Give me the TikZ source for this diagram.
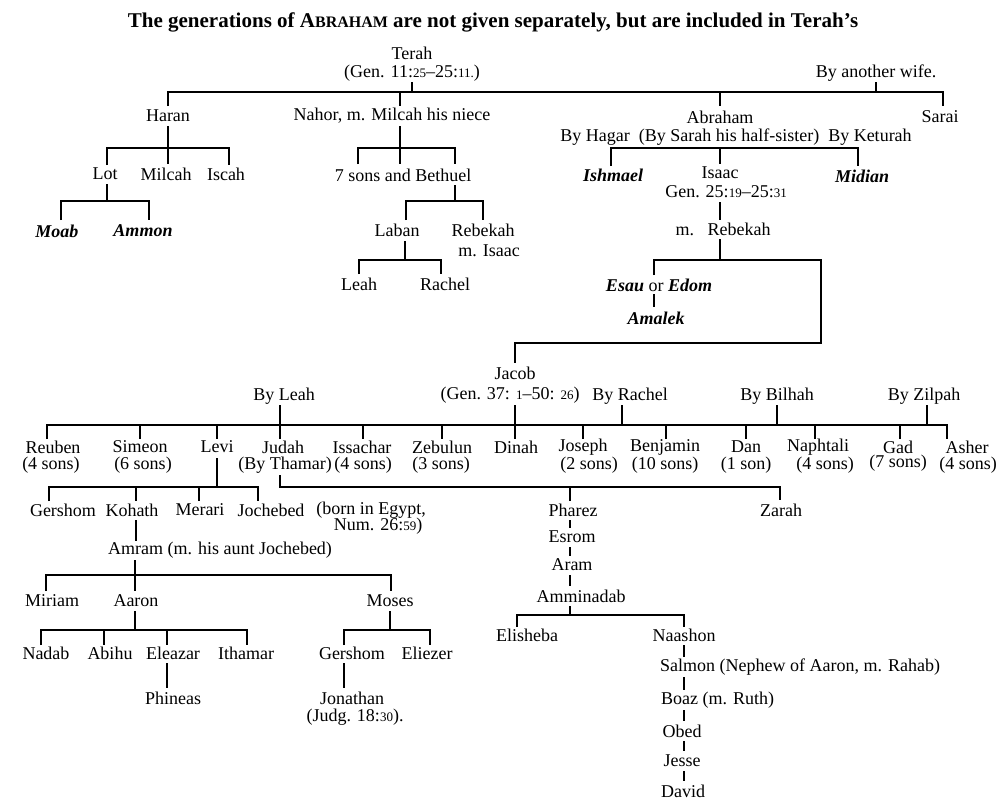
\documentclass[tikz,border=0pt]{standalone}
\usepackage{fontspec}
\setmainfont{Liberation Serif}
\newcommand{\sm}[1]{{\fontsize{13}{14}\selectfont #1}}
\begin{document}
\begin{tikzpicture}[x=1pt,y=-1pt,
  every node/.style={inner sep=0pt,font=\fontsize{18}{20}\selectfont},
  it/.style={font=\fontsize{18}{20}\selectfont\itshape\bfseries},
  ln/.style={line width=2.8pt}]
\useasboundingbox (0,0) rectangle (1000,800);
\node (title) at (493,22) {\fontsize{21}{23}\selectfont\bfseries The generations of A{\fontsize{16}{18}\selectfont BRAHAM} are not given separately, but are included in Terah's};
% top
\node (terah) at (412,53) {Terah};
\node (terahg) at (412,73) {(Gen. 11:\sm{25}--25:\sm{11.})};
\node (another) at (876,73) {By another wife.};
\node (haran) at (168,116) {Haran};
\node (nahor) at (392,116) {Nahor, m. Milcah his niece};
\node (abraham) at (720,117) {Abraham};
\node (sarai) at (940,117) {Sarai};
\draw[ln] (412,82) -- (412,92) (168,106) -- (168,92) -- (943,92) -- (943,106)
  (400,92) -- (400,106) (720,92) -- (720,106) (876,82) -- (876,92);
% Haran
\node (lot) at (105,174) {Lot};
\node (milcah) at (166,174) {Milcah};
\node (iscah) at (226,174) {Iscah};
\draw[ln] (168,126) -- (168,164) (107,165) -- (107,148) -- (229,148) -- (229,165);
\node[it] (moab) at (57,231) {Moab};
\node[it] (ammon) at (143,231) {Ammon};
\draw[ln] (107,184) -- (107,201) (61,220) -- (61,201) -- (149,201) -- (149,220);
% Nahor
\node (seven) at (403,175) {7 sons and Bethuel};
\draw[ln] (400,126) -- (400,164) (358,164) -- (358,148) -- (455,148) -- (455,164);
\node (laban) at (397,230) {Laban};
\node (rebekah1) at (483,230) {Rebekah};
\node (misaac) at (489,251) {m. Isaac};
\draw[ln] (455,185) -- (455,201) (406,220) -- (406,201) -- (483,201) -- (483,220);
\node (leah) at (359,284) {Leah};
\node (rachel) at (445,284) {Rachel};
\draw[ln] (405,241) -- (405,260) (359,274) -- (359,260) -- (441,260) -- (441,274);
% Abraham
\node (wives) at (736,137) {By Hagar\ \ (By Sarah his half-sister)\ \ By Keturah};
\node[it] (ishmael) at (613,175) {Ishmael};
\node (isaac) at (720,173) {Isaac};
\node (isaacg) at (726,192) {Gen. 25:\sm{19}--25:\sm{31}};
\node[it] (midian) at (862,176) {Midian};
\draw[ln] (611,166) -- (611,148) -- (858,148) -- (858,166) (720,148) -- (720,164);
\node (mreb) at (723,229) {m.\ \ \ Rebekah};
\draw[ln] (720,202) -- (720,220) (720,239) -- (720,260);
\node (esau) at (659,285) {\textit{\textbf{Esau}} or \textit{\textbf{Edom}}};
\node[it] (amalek) at (656,318) {Amalek};
\draw[ln] (654,275) -- (654,260) -- (821,260) -- (821,343) -- (515,343) -- (515,363)
  (654,294) -- (654,307);
% Jacob
\node (jacob) at (515,373) {Jacob};
\node (jacobg) at (510,395) {(Gen. 37: \sm{1}--50: \sm{26})};
\node (byleah) at (284,396) {By Leah};
\node (byrachel) at (630,396) {By Rachel};
\node (bybilhah) at (777,396) {By Bilhah};
\node (byzilpah) at (924,396) {By Zilpah};
\draw[ln] (515,405) -- (515,439) (47,439) -- (47,425) -- (947,425) -- (947,439)
  (280,405) -- (280,439) (622,405) -- (622,425) (777,405) -- (777,425) (927,405) -- (927,425);
\foreach \x in {140,217,363,442,583,666,746,815,900} \draw[ln] (\x,425) -- (\x,439);
\node (reuben) at (53,447) {Reuben};  \node at (51,465) {(4 sons)};
\node (simeon) at (140,447) {Simeon}; \node at (143,465) {(6 sons)};
\node (levi) at (217,447) {Levi};
\node (judah) at (283,447) {Judah};   \node (thamar) at (285,465) {(By Thamar)};
\node (issachar) at (362,447) {Issachar}; \node at (363,465) {(4 sons)};
\node (zebulun) at (442,447) {Zebulun}; \node at (441,465) {(3 sons)};
\node (dinah) at (516,447) {Dinah};
\node (joseph) at (583,447) {Joseph}; \node at (589,465) {(2 sons)};
\node (benjamin) at (665,447) {Benjamin}; \node at (665,465) {(10 sons)};
\node (dan) at (746,447) {Dan}; \node at (746,465) {(1 son)};
\node (naphtali) at (818,447) {Naphtali}; \node at (825,465) {(4 sons)};
\node (gad) at (898,447) {Gad}; \node at (898,463) {(7 sons)};
\node (asher) at (967,447) {Asher}; \node at (968,465) {(4 sons)};
% Levi
\draw[ln] (217,458) -- (217,487) (49,501) -- (49,487) -- (258,487) -- (258,501)
  (136,487) -- (136,501) (199,487) -- (199,501);
\node (gershom1) at (63,510) {Gershom};
\node (kohath) at (132,510) {Kohath};
\node (merari) at (200,510) {Merari};
\node (jochebed) at (271,510) {Jochebed};
\node (born) at (371,510) {(born in Egypt,};
\node (num) at (378,526) {Num. 26:\sm{59})};
\draw[ln] (136,520) -- (136,541);
\node (amram) at (220,550) {Amram (m. his aunt Jochebed)};
\draw[ln] (135,560) -- (135,591) (46,591) -- (46,575) -- (391,575) -- (391,591);
\node (miriam) at (52,601) {Miriam};
\node (aaron) at (136,601) {Aaron};
\node (moses) at (390,601) {Moses};
\draw[ln] (135,611) -- (135,630) (41,645) -- (41,630) -- (247,630) -- (247,645)
  (104,630) -- (104,645) (167,630) -- (167,645);
\node (nadab) at (46,653) {Nadab};
\node (abihu) at (110,653) {Abihu};
\node (eleazar) at (173,653) {Eleazar};
\node (ithamar) at (246,653) {Ithamar};
\draw[ln] (167,663) -- (167,688);
\node (phineas) at (173,698) {Phineas};
\draw[ln] (390,611) -- (390,630) (344,645) -- (344,630) -- (430,630) -- (430,645);
\node (gershom2) at (352,653) {Gershom};
\node (eliezer) at (427,653) {Eliezer};
\draw[ln] (344,663) -- (344,688);
\node (jonathan) at (352,698) {Jonathan};
\node (judg) at (355,717) {(Judg. 18:\sm{30}).};
% Judah
\draw[ln] (280,475) -- (280,487) -- (780,487) -- (780,500) (570,487) -- (570,501);
\node (pharez) at (573,510) {Pharez};
\node (zarah) at (781,510) {Zarah};
\node (esrom) at (572,537) {Esrom};
\node (aram) at (572,565) {Aram};
\node (amminadab) at (581,596) {Amminadab};
\draw[ln] (570,520) -- (570,528) (570,547) -- (570,556) (570,575) -- (570,586);
\draw[ln] (570,606) -- (570,615) (517,627) -- (517,615) -- (684,615) -- (684,627);
\node (elisheba) at (527,635) {Elisheba};
\node (naashon) at (684,635) {Naashon};
\node[anchor=west] (salmon) at (660,667) {Salmon (Nephew of Aaron, m. Rahab)};
\node[anchor=west] (boaz) at (661,700) {Boaz (m. Ruth)};
\node (obed) at (682,731) {Obed};
\node (jesse) at (682,761) {Jesse};
\node (david) at (683,791) {David};
\draw[ln] (684,645) -- (684,657) (684,677) -- (684,690) (684,710) -- (684,721)
  (684,741) -- (684,751) (684,771) -- (684,781);
\end{tikzpicture}
\end{document}
